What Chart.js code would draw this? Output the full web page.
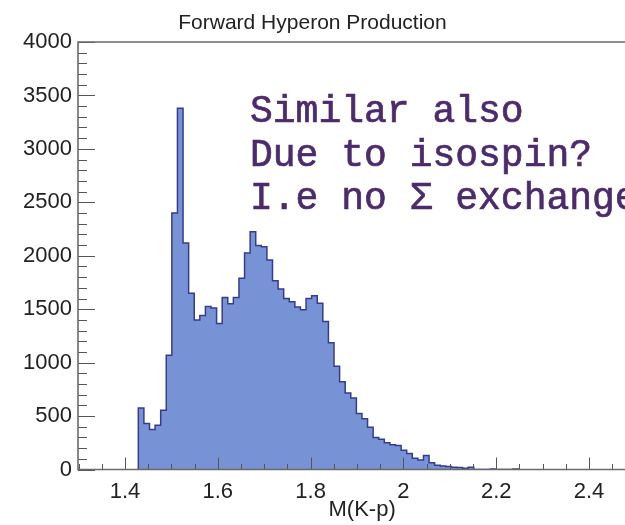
<!DOCTYPE html>
<html>
<head>
<meta charset="utf-8">
<script src="https://cdn.jsdelivr.net/npm/chart.js@4/dist/chart.umd.min.js"></script>
<style>
html,body{margin:0;padding:0;background:#fff;}
#wrap{width:625px;height:525px;position:relative;}
</style>
</head>
<body>
<div id="wrap"><canvas id="c" width="625" height="525"></canvas></div>
<script>
// ---- data ----
const chartTitle = 'Forward Hyperon Production';
const xTitle = 'M(K-p)';
const binStart = 1.4287;   // low edge of first filled bin
const binWidth = 0.01205;  // bin width
const counts = [
  575, 430, 375, 415, 555, 1070, 2400, 3380, 2120, 1650,
  1400, 1440, 1525, 1510, 1365, 1610, 1550, 1610, 1790, 2025,
  2225, 2095, 2085, 1960, 1765, 1690, 1600, 1570, 1520, 1495,
  1600, 1625, 1555, 1385, 1185, 965, 820, 715, 670, 525,
  475, 395, 300, 282, 250, 232, 225, 180, 150, 105,
  90, 130, 64, 40, 32, 28, 22, 18, 12, 20,
  0, 0, 0, 4, 0, 0, 0, 4
];
const xRange = [1.2987, 2.4776];
const yRange = [0, 4000];
const noteLines = ['Similar also', 'Due to isospin?', 'I.e no \u03A3 exchange'];

// build step points (left edge of each bin carries its value)
const pts = [{x: binStart, y: 0}];
counts.forEach((c, i) => pts.push({x: binStart + i * binWidth, y: c}));
pts.push({x: binStart + counts.length * binWidth, y: 0});

const SANS = '"Liberation Sans", Arial, sans-serif';

const decor = {
  id: 'decor',
  afterDatasetsDraw(chart) {
    const {ctx, chartArea: a, scales: {x, y}} = chart;
    ctx.save();
    // ticks (ROOT style, inside)
    ctx.strokeStyle = '#555';
    ctx.lineWidth = 1;
    ctx.beginPath();
    for (let v = yRange[0]; v <= yRange[1]; v += 100) {
      const py = Math.round(y.getPixelForValue(v)) + 0.5;
      const len = v % 500 === 0 ? 17 : 9;
      ctx.moveTo(a.left, py); ctx.lineTo(a.left + len, py);
    }
    for (let k = 26; k <= 50; k++) {
      const px = Math.round(x.getPixelForValue(k * 0.05)) + 0.5;
      if (px <= a.left + 1 || px > a.right) continue;
      const len = k % 4 === 0 ? 12 : 5.5;
      ctx.moveTo(px, a.bottom); ctx.lineTo(px, a.bottom - len);
    }
    ctx.stroke();
    // frame
    ctx.strokeStyle = '#6a6a6a';
    ctx.lineWidth = 1.6;
    ctx.beginPath();
    ctx.moveTo(a.right, a.top); ctx.lineTo(a.left, a.top);
    ctx.lineTo(a.left, a.bottom); ctx.lineTo(a.right, a.bottom);
    ctx.stroke();
    ctx.restore();
  },
  afterDraw(chart) {
    const {ctx, scales: {x}} = chart;
    ctx.save();
    // axis title (ROOT places it off-centre)
    ctx.fillStyle = '#222';
    ctx.font = '22px ' + SANS;
    ctx.textAlign = 'center';
    ctx.textBaseline = 'alphabetic';
    ctx.fillText(xTitle, x.getPixelForValue(1.911), 516);
    // annotation
    ctx.textAlign = 'left';
    ctx.fillStyle = '#4c2b6c';
    ctx.strokeStyle = '#4c2b6c';
    ctx.lineWidth = 0.7;
    ctx.font = '38px "Liberation Mono", "DejaVu Sans Mono", monospace';
    const base = [122, 165.5, 209];
    noteLines.forEach((t, i) => { ctx.fillText(t, 250, base[i]); ctx.strokeText(t, 250, base[i]); });
    ctx.restore();
  }
};

new Chart(document.getElementById('c'), {
  type: 'line',
  data: {
    datasets: [{
      data: pts,
      stepped: true,
      fill: 'origin',
      backgroundColor: '#7892d6',
      borderColor: '#363c8c',
      borderWidth: 1.5,
      pointRadius: 0,
      tension: 0
    }]
  },
  options: {
    responsive: false,
    animation: false,
    events: [],
    layout: {padding: 0},
    plugins: {
      legend: {display: false},
      tooltip: {enabled: false},
      title: {
        display: true,
        text: chartTitle,
        color: '#222',
        font: {family: SANS, size: 21, weight: 'normal'},
        padding: {top: 10.5, bottom: 6.3}
      }
    },
    scales: {
      x: {
        type: 'linear',
        min: xRange[0], max: xRange[1],
        grid: {display: false, drawTicks: false},
        border: {display: false},
        afterFit(s) { s.height = 55.5; },
        ticks: {
          stepSize: 0.2,
          includeBounds: false,
          autoSkip: false,
          maxRotation: 0,
          padding: 9,
          color: '#222',
          font: {family: SANS, size: 22},
          callback: v => String(+(+v).toFixed(2))
        }
      },
      y: {
        min: yRange[0], max: yRange[1],
        grid: {display: false, drawTicks: false},
        border: {display: false},
        afterFit(s) { s.width = 78; },
        ticks: {
          stepSize: 500,
          padding: 6,
          color: '#222',
          font: {family: SANS, size: 22},
          callback: v => String(v)
        }
      }
    }
  },
  plugins: [decor]
});
</script>
</body>
</html>
